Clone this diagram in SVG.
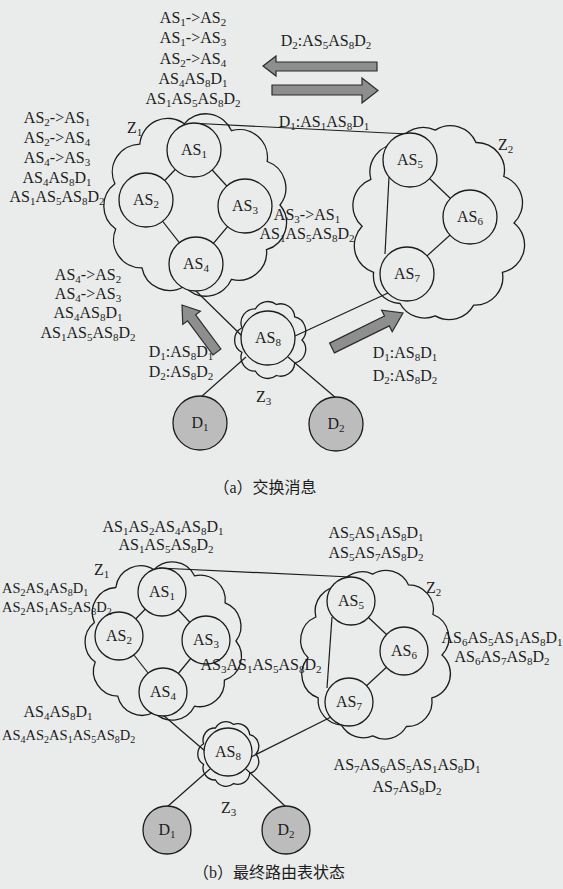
<svg xmlns="http://www.w3.org/2000/svg" width="563" height="889" viewBox="0 0 563 889">
<style>
text{font-family:"Liberation Serif","Times New Roman","Noto Sans CJK SC",serif;font-size:16px;fill:#1c1c1c}
.m{text-anchor:middle}
.e{text-anchor:end}
.b{font-size:11px;baseline-shift:-3px}
.sm{font-size:14.5px}
.sm .b{font-size:10px}
.cap{font-size:16px}
.cl{fill:none;stroke:#1c1c1c;stroke-width:1.3}
.n{fill:#eaeceb;stroke:#1c1c1c;stroke-width:1.3}
.d{fill:#bcbcbc;stroke:#1c1c1c;stroke-width:1.3}
.ln{stroke:#1c1c1c;stroke-width:1.2;fill:none}
.ar{fill:#8e8e8e;stroke:#2a2a2a;stroke-width:1.2}
</style>
<rect x="0" y="0" width="563" height="889" fill="#eaeceb"/>

<!-- ===== (a) clouds ===== -->
<g id="a-Z1">
<path class="cl" d="M280,205 A28,28 0 0 1 266.5,249.7 A28,28 0 0 1 231.5,279.3 A28,28 0 0 1 184.3,286.2 A28,28 0 0 1 142,267.8 A28,28 0 0 1 115.7,229 A28,28 0 0 1 114.9,183.8 A28,28 0 0 1 139.8,144.1 A28,28 0 0 1 184.3,123.8 A28,28 0 0 1 231.5,130.7 A28,28 0 0 1 267.2,161.5 A28,28 0 0 1 280,205 Z"/>
<text x="127" y="133">Z<tspan class="b">1</tspan></text>
</g>
<g id="a-Z2">
<path class="cl" d="M514,223 A28,28 0 0 1 502.4,272.3 A28,28 0 0 1 473.7,305.1 A28,28 0 0 1 435.3,315.9 A28,28 0 0 1 400,303.5 A28,28 0 0 1 373.6,272.3 A28,28 0 0 1 362.1,226.3 A28,28 0 0 1 370.9,179.4 A28,28 0 0 1 397.7,144.1 A28,28 0 0 1 435.3,130.1 A28,28 0 0 1 476,142.5 A28,28 0 0 1 503.8,176.5 A28,28 0 0 1 514,223 Z"/>
<text x="498" y="150">Z<tspan class="b">2</tspan></text>
</g>
<g id="a-Z3">
<path class="cl" d="M302,340 A14,14 0 0 1 294.7,363.1 A14,14 0 0 1 276.4,375.5 A14,14 0 0 1 255.5,371.2 A14,14 0 0 1 241.9,352.3 A14,14 0 0 1 241.9,327.7 A14,14 0 0 1 255.5,308.8 A14,14 0 0 1 276.4,304.5 A14,14 0 0 1 294.7,316.9 A14,14 0 0 1 302,340 Z"/>
<text x="256" y="402">Z<tspan class="b">3</tspan></text>
</g>

<!-- ===== (b) clouds ===== -->
<g id="b-Z1">
<path class="cl" d="M236,641 A25,25 0 0 1 224.4,680.2 A25,25 0 0 1 194.5,706.2 A25,25 0 0 1 154,712.3 A25,25 0 0 1 117.7,696.2 A25,25 0 0 1 95.2,662 A25,25 0 0 1 94.4,622.4 A25,25 0 0 1 115.8,587.5 A25,25 0 0 1 154,569.7 A25,25 0 0 1 194.5,575.8 A25,25 0 0 1 225.1,602.8 A25,25 0 0 1 236,641 Z"/>
<text x="94" y="575">Z<tspan class="b">1</tspan></text>
</g>
<g id="b-Z2">
<path class="cl" d="M442,655 A25,25 0 0 1 431.8,697.9 A25,25 0 0 1 406.4,726.5 A25,25 0 0 1 372.7,735.9 A25,25 0 0 1 341.5,725.1 A25,25 0 0 1 318.2,697.9 A25,25 0 0 1 308.1,657.8 A25,25 0 0 1 315.8,617 A25,25 0 0 1 339.5,586.3 A25,25 0 0 1 372.7,574.1 A25,25 0 0 1 408.5,584.9 A25,25 0 0 1 433,614.5 A25,25 0 0 1 442,655 Z"/>
<text x="426" y="593">Z<tspan class="b">2</tspan></text>
</g>
<g id="b-Z3">
<path class="cl" d="M256,754 A12,12 0 0 1 249.7,773.3 A12,12 0 0 1 233.7,783.6 A12,12 0 0 1 215.5,780 A12,12 0 0 1 203.6,764.3 A12,12 0 0 1 203.6,743.7 A12,12 0 0 1 215.5,728 A12,12 0 0 1 233.7,724.4 A12,12 0 0 1 249.7,734.7 A12,12 0 0 1 256,754 Z"/>
<text x="221" y="813">Z<tspan class="b">3</tspan></text>
</g>

<!-- ===== connectors ===== -->
<g id="connectors">
<!-- (a) -->
<line class="ln" x1="194" y1="150" x2="146" y2="200"/>
<line class="ln" x1="194" y1="150" x2="245" y2="206"/>
<line class="ln" x1="146" y1="200" x2="196" y2="264"/>
<line class="ln" x1="245" y1="206" x2="196" y2="264"/>
<line class="ln" x1="199" y1="123.5" x2="408" y2="134"/>
<line class="ln" x1="410" y1="160" x2="470" y2="217"/>
<line class="ln" x1="389" y1="177" x2="385" y2="254"/>
<line class="ln" x1="470" y1="217" x2="407" y2="274"/>
<line class="ln" x1="196" y1="291" x2="242" y2="336"/>
<line class="ln" x1="295" y1="336" x2="388" y2="293"/>
<line class="ln" x1="246" y1="357" x2="201" y2="397"/>
<line class="ln" x1="288" y1="357" x2="336" y2="398"/>
<!-- (b) -->
<line class="ln" x1="162" y1="592" x2="119" y2="636"/>
<line class="ln" x1="162" y1="592" x2="206" y2="640"/>
<line class="ln" x1="119" y1="636" x2="163" y2="692"/>
<line class="ln" x1="206" y1="640" x2="163" y2="692"/>
<line class="ln" x1="159" y1="568" x2="351" y2="577"/>
<line class="ln" x1="351" y1="601" x2="404" y2="651"/>
<line class="ln" x1="332" y1="617" x2="327" y2="688"/>
<line class="ln" x1="404" y1="651" x2="349" y2="702"/>
<line class="ln" x1="163" y1="715" x2="205" y2="751"/>
<line class="ln" x1="251" y1="757" x2="331" y2="717"/>
<line class="ln" x1="210" y1="769" x2="167" y2="807"/>
<line class="ln" x1="246" y1="769" x2="286" y2="807"/>
<!-- block arrows (a) -->
<polygon class="ar" points="263,66 276,56 276,62 377,62 377,71 276,71 276,76"/>
<polygon class="ar" points="272,85 362,85 362,78 378,90.5 362,103 362,95 272,95"/>
<polygon class="ar" points="221,349 195.6,314.8 200.4,311.2 182,305 182.8,324.4 187.6,320.8 213,355"/>
<polygon class="ar" points="334.4,352.9 389.3,325.9 392.2,331.8 403,313 381.6,310.2 384.5,316.1 329.6,343.1"/>
</g>

<!-- ===== (a) nodes ===== -->
<g id="a-AS1"><circle class="n" cx="194" cy="150" r="27"/><text class="m" x="194" y="155">AS<tspan class="b">1</tspan></text></g>
<g id="a-AS2"><circle class="n" cx="146" cy="200" r="27"/><text class="m" x="146" y="205">AS<tspan class="b">2</tspan></text></g>
<g id="a-AS3"><circle class="n" cx="245" cy="206" r="27"/><text class="m" x="245" y="211">AS<tspan class="b">3</tspan></text></g>
<g id="a-AS4"><circle class="n" cx="196" cy="264" r="27"/><text class="m" x="196" y="269">AS<tspan class="b">4</tspan></text></g>
<g id="a-AS5"><circle class="n" cx="410" cy="160" r="27"/><text class="m" x="410" y="165">AS<tspan class="b">5</tspan></text></g>
<g id="a-AS6"><circle class="n" cx="470" cy="217" r="27"/><text class="m" x="470" y="222">AS<tspan class="b">6</tspan></text></g>
<g id="a-AS7"><circle class="n" cx="407" cy="274" r="27"/><text class="m" x="407" y="279">AS<tspan class="b">7</tspan></text></g>
<g id="a-AS8"><circle class="n" cx="268" cy="338" r="27"/><text class="m" x="268" y="343">AS<tspan class="b">8</tspan></text></g>
<g id="a-D1"><circle class="d" cx="200" cy="423" r="27"/><text class="m" x="200" y="428">D<tspan class="b">1</tspan></text></g>
<g id="a-D2"><circle class="d" cx="336" cy="424" r="27"/><text class="m" x="336" y="429">D<tspan class="b">2</tspan></text></g>

<!-- ===== (b) nodes ===== -->
<g id="b-AS1"><circle class="n" cx="162" cy="592" r="24"/><text class="m" x="162" y="597">AS<tspan class="b">1</tspan></text></g>
<g id="b-AS2"><circle class="n" cx="119" cy="636" r="24"/><text class="m" x="119" y="641">AS<tspan class="b">2</tspan></text></g>
<g id="b-AS3"><circle class="n" cx="206" cy="640" r="24"/><text class="m" x="206" y="645">AS<tspan class="b">3</tspan></text></g>
<g id="b-AS4"><circle class="n" cx="163" cy="692" r="24"/><text class="m" x="163" y="697">AS<tspan class="b">4</tspan></text></g>
<g id="b-AS5"><circle class="n" cx="351" cy="601" r="24"/><text class="m" x="351" y="606">AS<tspan class="b">5</tspan></text></g>
<g id="b-AS6"><circle class="n" cx="404" cy="651" r="24"/><text class="m" x="404" y="656">AS<tspan class="b">6</tspan></text></g>
<g id="b-AS7"><circle class="n" cx="349" cy="702" r="24"/><text class="m" x="349" y="707">AS<tspan class="b">7</tspan></text></g>
<g id="b-AS8"><circle class="n" cx="228" cy="752" r="24"/><text class="m" x="228" y="757">AS<tspan class="b">8</tspan></text></g>
<g id="b-D1"><circle class="d" cx="167" cy="830" r="24"/><text class="m" x="167" y="835">D<tspan class="b">1</tspan></text></g>
<g id="b-D2"><circle class="d" cx="286" cy="830" r="24"/><text class="m" x="286" y="835">D<tspan class="b">2</tspan></text></g>

<!-- ===== (a) labels ===== -->
<g id="a-labels">
<text class="m" x="193" y="23">AS<tspan class="b">1</tspan>-&gt;AS<tspan class="b">2</tspan></text>
<text class="m" x="193" y="43">AS<tspan class="b">1</tspan>-&gt;AS<tspan class="b">3</tspan></text>
<text class="m" x="193" y="64">AS<tspan class="b">2</tspan>-&gt;AS<tspan class="b">4</tspan></text>
<text class="m" x="193" y="84">AS<tspan class="b">4</tspan>AS<tspan class="b">8</tspan>D<tspan class="b">1</tspan></text>
<text class="m" x="193" y="104">AS<tspan class="b">1</tspan>AS<tspan class="b">5</tspan>AS<tspan class="b">8</tspan>D<tspan class="b">2</tspan></text>

<text class="m" x="57" y="123">AS<tspan class="b">2</tspan>-&gt;AS<tspan class="b">1</tspan></text>
<text class="m" x="57" y="143">AS<tspan class="b">2</tspan>-&gt;AS<tspan class="b">4</tspan></text>
<text class="m" x="57" y="163">AS<tspan class="b">4</tspan>-&gt;AS<tspan class="b">3</tspan></text>
<text class="m" x="57" y="183">AS<tspan class="b">4</tspan>AS<tspan class="b">8</tspan>D<tspan class="b">1</tspan></text>
<text class="m" x="57" y="202">AS<tspan class="b">1</tspan>AS<tspan class="b">5</tspan>AS<tspan class="b">8</tspan>D<tspan class="b">2</tspan></text>

<text class="m" x="326" y="46">D<tspan class="b">2</tspan>:AS<tspan class="b">5</tspan>AS<tspan class="b">8</tspan>D<tspan class="b">2</tspan></text>
<text class="m" x="324" y="127">D<tspan class="b">1</tspan>:AS<tspan class="b">1</tspan>AS<tspan class="b">8</tspan>D<tspan class="b">1</tspan></text>

<text class="m" x="307" y="220">AS<tspan class="b">3</tspan>-&gt;AS<tspan class="b">1</tspan></text>
<text class="m" x="307" y="239">AS<tspan class="b">1</tspan>AS<tspan class="b">5</tspan>AS<tspan class="b">8</tspan>D<tspan class="b">2</tspan></text>

<text class="m" x="88" y="280">AS<tspan class="b">4</tspan>-&gt;AS<tspan class="b">2</tspan></text>
<text class="m" x="88" y="299">AS<tspan class="b">4</tspan>-&gt;AS<tspan class="b">3</tspan></text>
<text class="m" x="88" y="318">AS<tspan class="b">4</tspan>AS<tspan class="b">8</tspan>D<tspan class="b">1</tspan></text>
<text class="m" x="88" y="338">AS<tspan class="b">1</tspan>AS<tspan class="b">5</tspan>AS<tspan class="b">8</tspan>D<tspan class="b">2</tspan></text>

<text class="m" x="181" y="357">D<tspan class="b">1</tspan>:AS<tspan class="b">8</tspan>D<tspan class="b">1</tspan></text>
<text class="m" x="181" y="377">D<tspan class="b">2</tspan>:AS<tspan class="b">8</tspan>D<tspan class="b">2</tspan></text>
<text class="m" x="405" y="358">D<tspan class="b">1</tspan>:AS<tspan class="b">8</tspan>D<tspan class="b">1</tspan></text>
<text class="m" x="405" y="381">D<tspan class="b">2</tspan>:AS<tspan class="b">8</tspan>D<tspan class="b">2</tspan></text>

<text class="m cap" x="265" y="493">（a）交换消息</text>
</g>

<!-- ===== (b) labels ===== -->
<g id="b-labels">
<text class="m" x="163" y="532">AS<tspan class="b">1</tspan>AS<tspan class="b">2</tspan>AS<tspan class="b">4</tspan>AS<tspan class="b">8</tspan>D<tspan class="b">1</tspan></text>
<text class="m" x="166" y="550">AS<tspan class="b">1</tspan>AS<tspan class="b">5</tspan>AS<tspan class="b">8</tspan>D<tspan class="b">2</tspan></text>
<text class="sm" x="2" y="593">AS<tspan class="b">2</tspan>AS<tspan class="b">4</tspan>AS<tspan class="b">8</tspan>D<tspan class="b">1</tspan></text>
<text class="sm" x="2" y="612">AS<tspan class="b">2</tspan>AS<tspan class="b">1</tspan>AS<tspan class="b">5</tspan>AS<tspan class="b">8</tspan>D<tspan class="b">2</tspan></text>
<text class="m" x="376" y="538">AS<tspan class="b">5</tspan>AS<tspan class="b">1</tspan>AS<tspan class="b">8</tspan>D<tspan class="b">1</tspan></text>
<text class="m" x="376" y="558">AS<tspan class="b">5</tspan>AS<tspan class="b">7</tspan>AS<tspan class="b">8</tspan>D<tspan class="b">2</tspan></text>
<text class="m" x="502" y="643">AS<tspan class="b">6</tspan>AS<tspan class="b">5</tspan>AS<tspan class="b">1</tspan>AS<tspan class="b">8</tspan>D<tspan class="b">1</tspan></text>
<text class="m" x="502" y="662">AS<tspan class="b">6</tspan>AS<tspan class="b">7</tspan>AS<tspan class="b">8</tspan>D<tspan class="b">2</tspan></text>
<text class="m" x="261" y="670">AS<tspan class="b">3</tspan>AS<tspan class="b">1</tspan>AS<tspan class="b">5</tspan>AS<tspan class="b">8</tspan>D<tspan class="b">2</tspan></text>
<text class="m" x="58" y="717">AS<tspan class="b">4</tspan>AS<tspan class="b">8</tspan>D<tspan class="b">1</tspan></text>
<text class="sm" x="2" y="740">AS<tspan class="b">4</tspan>AS<tspan class="b">2</tspan>AS<tspan class="b">1</tspan>AS<tspan class="b">5</tspan>AS<tspan class="b">8</tspan>D<tspan class="b">2</tspan></text>
<text class="m" x="407" y="770">AS<tspan class="b">7</tspan>AS<tspan class="b">6</tspan>AS<tspan class="b">5</tspan>AS<tspan class="b">1</tspan>AS<tspan class="b">8</tspan>D<tspan class="b">1</tspan></text>
<text class="m" x="407" y="792">AS<tspan class="b">7</tspan>AS<tspan class="b">8</tspan>D<tspan class="b">2</tspan></text>
<text class="m cap" x="269" y="878">（b）最终路由表状态</text>
</g>
</svg>
